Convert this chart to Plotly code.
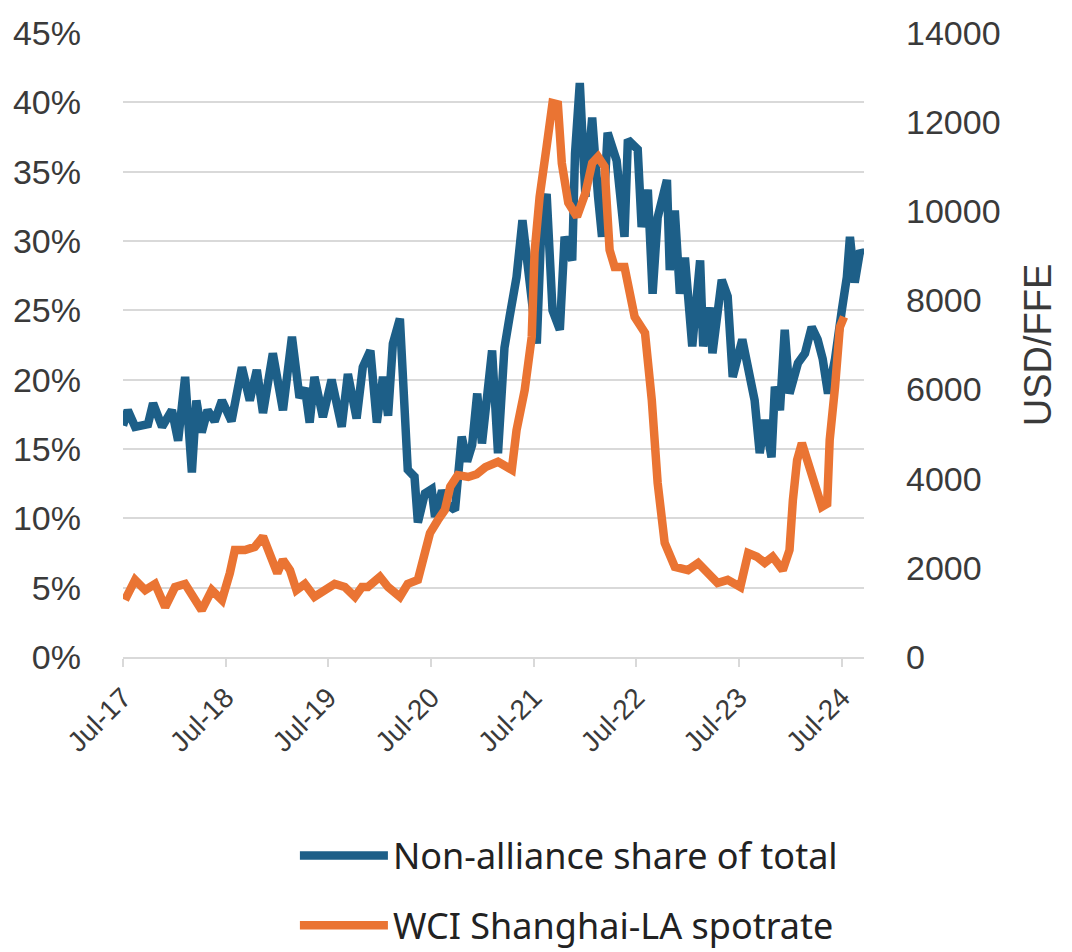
import plotly.graph_objects as go

# Non-alliance share of total (fraction)
share_dates = [
    "2017-07-01", "2017-07-18", "2017-08-13", "2017-09-28", "2017-10-16", "2017-11-17",
    "2017-12-22", "2018-01-13", "2018-02-07", "2018-03-03", "2018-03-19", "2018-04-07",
    "2018-04-28", "2018-05-23", "2018-06-18", "2018-07-22", "2018-08-28", "2018-09-25",
    "2018-10-20", "2018-11-11", "2018-12-16", "2019-01-21", "2019-02-22", "2019-03-21",
    "2019-04-09", "2019-04-26", "2019-05-13", "2019-06-12", "2019-07-13", "2019-08-18",
    "2019-09-09", "2019-10-10", "2019-11-01", "2019-11-28", "2019-12-21", "2020-01-12",
    "2020-01-30", "2020-02-16", "2020-03-12", "2020-03-29", "2020-04-09", "2020-05-03",
    "2020-05-15", "2020-06-09", "2020-07-03", "2020-07-15", "2020-08-09", "2020-08-28",
    "2020-09-24", "2020-10-18", "2020-11-06", "2020-11-24", "2020-12-12", "2020-12-29",
    "2021-02-03", "2021-02-24", "2021-03-19", "2021-04-06", "2021-05-01", "2021-05-22",
    "2021-06-18", "2021-07-12", "2021-07-30", "2021-08-16", "2021-09-06", "2021-10-02",
    "2021-10-19", "2021-11-15", "2021-11-25", "2021-12-12", "2022-01-01", "2022-01-25",
    "2022-02-15", "2022-03-01", "2022-03-21", "2022-04-22", "2022-05-20", "2022-06-01",
    "2022-07-06", "2022-07-20", "2022-08-11", "2022-08-28", "2022-09-15", "2022-10-18",
    "2022-10-28", "2022-11-15", "2022-12-03", "2022-12-21", "2023-01-16", "2023-02-13",
    "2023-02-24", "2023-03-19", "2023-03-29", "2023-05-01", "2023-05-22", "2023-06-09",
    "2023-07-13", "2023-08-09", "2023-08-26", "2023-09-13", "2023-10-01", "2023-10-25",
    "2023-11-06", "2023-11-24", "2023-12-11", "2023-12-28", "2024-01-27", "2024-02-21",
    "2024-03-16", "2024-04-06", "2024-04-24", "2024-05-13", "2024-06-07", "2024-07-01",
    "2024-07-19", "2024-07-30", "2024-08-16", "2024-09-04", "2024-09-15",
]
share_values = [
    0.167, 0.178, 0.166, 0.168, 0.183, 0.166,
    0.178, 0.156, 0.202, 0.133, 0.185, 0.162,
    0.178, 0.170, 0.185, 0.170, 0.209, 0.185,
    0.207, 0.176, 0.219, 0.178, 0.231, 0.187,
    0.194, 0.169, 0.202, 0.173, 0.200, 0.166,
    0.204, 0.172, 0.209, 0.221, 0.169, 0.202,
    0.174, 0.226, 0.244, 0.185, 0.135, 0.130,
    0.097, 0.118, 0.121, 0.101, 0.120, 0.110,
    0.106, 0.159, 0.141, 0.153, 0.190, 0.154,
    0.221, 0.147, 0.223, 0.245, 0.274, 0.315,
    0.265, 0.226, 0.319, 0.334, 0.250, 0.236,
    0.303, 0.286, 0.363, 0.414, 0.332, 0.389,
    0.332, 0.303, 0.378, 0.358, 0.303, 0.373,
    0.366, 0.310, 0.337, 0.262, 0.317, 0.344,
    0.279, 0.322, 0.262, 0.288, 0.224, 0.286,
    0.224, 0.252, 0.219, 0.272, 0.260, 0.202,
    0.229, 0.202, 0.185, 0.147, 0.171, 0.144,
    0.195, 0.178, 0.236, 0.190, 0.212, 0.219,
    0.238, 0.229, 0.215, 0.190, 0.215, 0.250,
    0.274, 0.303, 0.270, 0.293, 0.290,
]

# WCI Shanghai-LA spot rate (USD/FFE)
wci_dates = [
    "2017-07-08", "2017-08-13", "2017-09-18", "2017-10-23", "2017-11-28", "2018-01-02",
    "2018-02-07", "2018-03-13", "2018-04-07", "2018-05-13", "2018-06-18", "2018-07-16",
    "2018-08-03", "2018-09-08", "2018-10-13", "2018-11-11", "2018-12-06", "2019-01-01",
    "2019-01-21", "2019-02-15", "2019-03-10", "2019-04-09", "2019-05-13", "2019-06-18",
    "2019-07-24", "2019-08-29", "2019-10-04", "2019-10-29", "2019-11-19", "2020-01-01",
    "2020-01-30", "2020-03-12", "2020-04-09", "2020-05-15", "2020-06-09", "2020-06-27",
    "2020-07-25", "2020-08-19", "2020-09-07", "2020-10-04", "2020-11-10", "2020-12-10",
    "2021-01-10", "2021-02-24", "2021-04-14", "2021-05-01", "2021-05-30", "2021-06-24",
    "2021-07-04", "2021-07-22", "2021-08-16", "2021-09-06", "2021-09-25", "2021-10-09",
    "2021-11-01", "2021-12-02", "2022-01-01", "2022-01-25", "2022-02-15", "2022-03-10",
    "2022-03-28", "2022-04-15", "2022-05-20", "2022-06-15", "2022-06-25", "2022-08-01",
    "2022-08-25", "2022-09-15", "2022-10-10", "2022-11-15", "2023-01-01", "2023-02-06",
    "2023-03-13", "2023-04-16", "2023-05-22", "2023-07-06", "2023-08-03", "2023-09-03",
    "2023-10-01", "2023-10-29", "2023-12-04", "2023-12-28", "2024-01-09", "2024-01-24",
    "2024-02-10", "2024-03-01", "2024-03-27", "2024-04-21", "2024-05-10", "2024-05-19",
    "2024-06-07", "2024-06-24", "2024-07-09",
]
wci_values = [
    1280, 1730, 1500, 1640, 1120, 1570,
    1640, 1280, 1050, 1500, 1280, 1880,
    2400, 2400, 2470, 2700, 2330, 1880,
    2180, 1950, 1500, 1640, 1350, 1500,
    1640, 1570, 1350, 1570, 1570, 1800,
    1570, 1350, 1640, 1730, 2250, 2780,
    3070, 3300, 3820, 4080, 4040, 4100,
    4260, 4380, 4200, 5090, 5990, 7180,
    9070, 10320, 11450, 12430, 12400, 11080,
    10190, 9880, 10410, 11080, 11220, 11000,
    9130, 8750, 8750, 8010, 7630, 7270,
    5770, 3900, 2560, 2020, 1950, 2110,
    1880, 1660, 1730, 1570, 2330, 2250,
    2110, 2250, 1950, 2400, 3520, 4420,
    4800, 4420, 3820, 3370, 3440, 4870,
    6060, 7400, 7630,
]

left_ticks = [0, 0.05, 0.10, 0.15, 0.20, 0.25, 0.30, 0.35, 0.40, 0.45]
right_ticks = [0, 2000, 4000, 6000, 8000, 10000, 12000, 14000]

BLUE = "#1d5f88"
ORANGE = "#ea7433"
TXT = "#3a3a3a"
GRID = "#d9d9d9"

fig = go.Figure()
fig.add_trace(go.Scatter(
    x=share_dates, y=share_values, name="Non-alliance share of total",
    mode="lines", line=dict(color=BLUE, width=8.5), legendgroup="a", yaxis="y",
))
fig.add_trace(go.Scatter(
    x=wci_dates, y=wci_values, name="WCI Shanghai-LA spotrate",
    mode="lines", line=dict(color=ORANGE, width=8.5), legendgroup="b", yaxis="y2",
))

fig.update_layout(
    width=1072, height=952,
    margin=dict(l=115, r=216, t=25, b=303, autoexpand=False),
    paper_bgcolor="white", plot_bgcolor="white",
    font=dict(family="Liberation Sans, Arial, sans-serif", size=34, color=TXT),
    xaxis=dict(
        type="date", range=["2017-07-01", "2024-09-18"],
        tick0="2017-07-01", dtick="M12", tickformat="%b-%y",
        tickangle=-45, showgrid=False, showline=True, linecolor=GRID, linewidth=2,
        ticks="outside", ticklen=8, tickcolor=GRID, tickwidth=2,
        ticklabelstandoff=3,
        tickfont=dict(size=28, color=TXT), zeroline=False,
    ),
    yaxis=dict(
        range=[0, 0.45], tickvals=left_ticks, tickformat=".0%",
        showgrid=True, gridcolor=GRID, gridwidth=2, zeroline=False,
        showline=False, ticks="", ticklabelstandoff=41,
        tickfont=dict(size=34, color=TXT),
    ),
    yaxis2=dict(
        range=[0, 14000], tickvals=right_ticks, tickformat="d",
        overlaying="y", side="right",
        showgrid=False, zeroline=False, showline=False, ticks="",
        ticklabelstandoff=41, tickfont=dict(size=34, color=TXT),
        title=dict(text="USD/FFE", font=dict(size=38, color=TXT), standoff=24),
    ),
    legend=dict(
        orientation="v", x=0.232, xanchor="left", y=-0.27, yanchor="top",
        font=dict(family="Noto Sans, sans-serif", size=36, color="#222222"),
        itemwidth=88, tracegroupgap=20, bgcolor="rgba(0,0,0,0)",
    ),
    showlegend=True,
)

fig.write_html("out.html")
